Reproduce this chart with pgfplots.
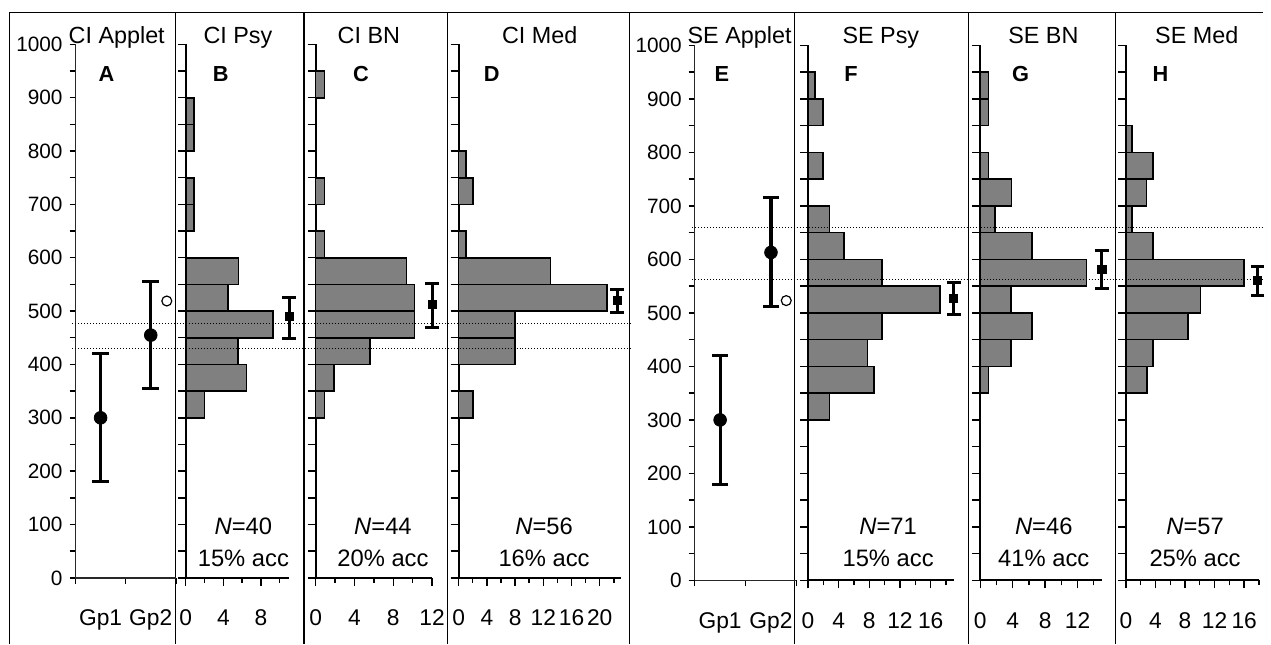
\documentclass[border=0pt]{standalone}
\usepackage{fontspec}
\setmainfont{Liberation Sans}
\usepackage{pgfplots}
\pgfplotsset{compat=1.18}
\definecolor{barfill}{RGB}{128,128,128}
\definecolor{axisgray}{RGB}{40,40,40}

\pgfplotsset{
  panel/.style={
    scale only axis, anchor=south west,
    ymin=0, ymax=1000, xmin=0,
    axis x line*=bottom, axis y line*=left,
    axis line style={axisgray, line width=0.8bp},
    tick style={black, line width=0.7bp},
    tick align=outside,
    ytick={0,50,...,1000},
    major tick length=4bp, minor tick length=2.5bp,
    clip=false,
    /pgf/number format/assume math mode=true,
    xticklabel style={font=\fontsize{11.5}{13}\selectfont, anchor=base, yshift=-20bp},
    yticklabel style={font=\fontsize{10.5}{12}\selectfont},
  },
  hist/.style={panel, yticklabels={}, axis line style={black, line width=1bp}},
  grp/.style={panel, xmax=2, xtick={0,1,2}, xticklabels={,,},
    extra x ticks={0.5,1.5}, extra x tick labels={Gp1,Gp2},
    extra x tick style={major tick length=0pt, xticklabel style={yshift=-4bp}},
    yticklabels={0,,100,,200,,300,,400,,500,,600,,700,,800,,900,,1000},
    major tick length=3bp},
  bars/.style={xbar, bar width=50, bar shift=0pt, fill=barfill, draw=black, line width=0.8bp},
  ref/.style={black, line width=0.5bp, dash pattern=on 0.5bp off 1bp},
  sq/.style={only marks, mark=square*, mark size=2.1bp, black,
    error bars/.cd, y dir=both, y explicit,
    error bar style={line width=1.5bp},
    error mark options={rotate=90, mark size=3.5bp, line width=1.5bp}},
  dot/.style={only marks, mark=*, mark size=3.2bp, black,
    error bars/.cd, y dir=both, y explicit,
    error bar style={line width=1.6bp},
    error mark options={rotate=90, mark size=4.2bp, line width=1.6bp}},
}

\begin{document}
\begin{tikzpicture}
\path (0,0) rectangle (635.5bp,324bp);
% panel frames
\draw[line width=0.6bp] (4.75bp,0) -- (4.75bp,317.65bp) -- (635.5bp,317.65bp);
\foreach \x in {88.35,153,225.35,317,400,487.5,561.5}
  \draw[line width=0.6bp] (\x bp,0) -- (\x bp,317.65bp);

% ---- CI group ----
\begin{axis}[hist, at={(93.5bp,33.15bp)}, width=52bp, height=268.5bp,
  xmax=11, xtick={0,4,8}, minor xtick={2,6,10}]
\addplot[bars] coordinates {(2,325) (6.45,375) (5.55,425) (9.3,475) (4.5,525) (5.6,575)
  (0.9,675) (0.9,725) (0.9,825) (0.9,875)};
\addplot[sq] coordinates {(11,490) += (0,35) -= (0,41)};
\end{axis}

\begin{axis}[hist, at={(158.85bp,33.15bp)}, width=58.65bp, height=268.5bp,
  xmax=12, xtick={0,4,8,12}, minor xtick={2,6,10}]
\addplot[bars] coordinates {(0.9,325) (1.9,375) (5.6,425) (10.2,475) (10.2,525) (9.35,575)
  (0.9,625) (0.9,725) (0.9,925)};
\addplot[sq] coordinates {(12,513) += (0,39) -= (0,43)};
\end{axis}

\begin{axis}[hist, at={(230.85bp,33.15bp)}, width=81.65bp, height=268.5bp,
  xmax=23, xtick={0,4,...,20}, minor xtick={2,6,...,22}]
\addplot[bars] coordinates {(2,325) (8,425) (8,475) (21,525) (13,575) (1,625) (2,725) (1,775)};
\addplot[sq] coordinates {(22.5,520) += (0,20) -= (0,23)};
\end{axis}

\begin{axis}[grp, at={(38bp,33.15bp)}, width=50.5bp, height=268.5bp]
\addplot[ref] coordinates {(-0.06,476) (11.05,476)};
\addplot[ref] coordinates {(-0.06,430) (11.05,430)};
\addplot[dot] coordinates {(0.5,300) +- (0,120) (1.5,455) +- (0,100)};
\addplot[only marks, mark=o, mark size=2.5bp, black, line width=0.6bp] coordinates {(1.82,519)};
\end{axis}

% ---- SE group ----
\begin{axis}[hist, at={(406.65bp,31.85bp)}, width=73.35bp, height=269.3bp,
  xmax=19, xtick={0,4,...,16}, minor xtick={2,6,...,18}]
\addplot[bars] coordinates {(2.8,325) (8.6,375) (7.75,425) (9.65,475) (17.2,525) (9.65,575)
  (4.7,625) (2.8,675) (2,775) (2,875) (0.9,925)};
\addplot[sq] coordinates {(19,527) += (0,29) -= (0,30)};
\end{axis}

\begin{axis}[hist, at={(493.35bp,31.85bp)}, width=61.25bp, height=269.3bp,
  xmax=15, xtick={0,4,8,12}, minor xtick={2,6,10,14}]
\addplot[bars] coordinates {(1,375) (3.8,425) (6.4,475) (3.8,525) (13.1,575) (6.4,625)
  (1.8,675) (3.86,725) (1,775) (1,875) (1,925)};
\addplot[sq] coordinates {(15,581) += (0,35) -= (0,35)};
\end{axis}

\begin{axis}[hist, at={(566.65bp,31.85bp)}, width=67bp, height=269.3bp,
  xmax=18, xtick={0,4,...,16}, minor xtick={2,6,...,18}]
\addplot[bars] coordinates {(2.9,375) (3.7,425) (8.4,475) (10.1,525) (16,575) (3.7,625)
  (0.8,675) (2.8,725) (3.7,775) (0.8,825)};
\addplot[sq] coordinates {(17.8,561) += (0,26) -= (0,29)};
\end{axis}

\begin{axis}[grp, at={(349.65bp,31.85bp)}, width=51.2bp, height=269.3bp]
\addplot[ref] coordinates {(-0.045,660) (11.17,660)};
\addplot[ref] coordinates {(-0.045,562) (11.17,562)};
\addplot[dot] coordinates {(0.5,300) +- (0,120) (1.5,613) += (0,102) -= (0,101)};
\addplot[only marks, mark=o, mark size=2.5bp, black, line width=0.6bp] coordinates {(1.80,523)};
\end{axis}

% titles, panel letters, sample notes
\foreach \x/\t in {58.75/CI Applet, 119.75/CI Psy, 185.65/CI BN, 271.65/CI Med,
  372.25/SE Applet, 443.35/SE Psy, 525.15/SE BN, 602.35/SE Med}
  \node[anchor=base, inner sep=0pt, font=\fontsize{11.8}{14}\selectfont] at (\x bp,302bp) {\t};
\foreach \x/\t in {53.65/A, 111.15/B, 181.65/C, 247.5/D, 363.35/E, 428.35/F, 513.65/G, 584.15/H}
  \node[anchor=base, inner sep=0pt, font=\fontsize{11}{13}\selectfont\bfseries] at (\x bp,283.2bp) {\t};
\foreach \x/\n/\a in {122.5/40/15, 192.75/44/20, 273.85/56/16, 447/71/15, 525.35/46/41, 601.5/57/25}{
  \node[anchor=base, inner sep=0pt, font=\fontsize{12}{14}\selectfont] at (\x bp,54.8bp) {\textit{N}=\n};
  \node[anchor=base, inner sep=0pt, font=\fontsize{12}{14}\selectfont] at (\x bp,39bp) {\a\% acc};
}
\end{tikzpicture}
\end{document}
